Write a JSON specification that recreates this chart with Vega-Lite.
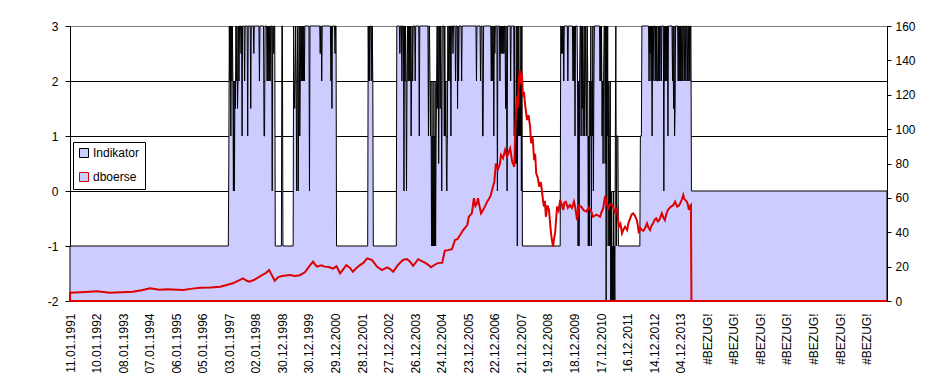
{
"$schema": "https://vega.github.io/schema/vega-lite/v6.json",
"width": 817, "height": 275,
"padding": {"left": 47, "top": 20, "right": 5, "bottom": 5},
"background": "white",
"config": {"view": {"stroke": "#808080", "strokeWidth": 1}, "font": "Liberation Sans",
 "axis": {"labelFont": "Liberation Sans", "labelFontSize": 12, "labelColor": "black", "title": null, "domainColor": "black", "tickColor": "black"},
 "axisX": {"labelOverlap": false, "labelFlush": false, "labelBound": false}},
"datasets": {
"ind": [
{"w":0,"v":-1},{"w":310,"v":-1},{"w":311,"v":0.5},{"w":312,"v":3},{"w":313,"v":2},{"w":314,"v":3},{"w":315,"v":1},{"w":316,"v":3},{"w":317,"v":2},{"w":318,"v":3},{"w":319,"v":2},{"w":320,"v":0},{"w":321,"v":2},{"w":322,"v":0},{"w":323,"v":2},{"w":324,"v":1.5},{"w":325,"v":3},{"w":326,"v":2},{"w":327,"v":3},{"w":328,"v":1.5},{"w":329,"v":2},{"w":330,"v":3},{"w":331,"v":2},{"w":332,"v":3},
{"w":334,"v":3},{"w":335,"v":2.5},{"w":336,"v":3},{"w":337,"v":1},{"w":338,"v":3},
{"w":341,"v":3},{"w":342,"v":2},{"w":343,"v":3},
{"w":347,"v":3},{"w":348,"v":1},{"w":349,"v":3},
{"w":353,"v":3},{"w":354,"v":1.5},{"w":355,"v":3},
{"w":359,"v":3},{"w":360,"v":2.5},{"w":361,"v":3},
{"w":370,"v":3},{"w":371,"v":2},{"w":372,"v":3},
{"w":379,"v":3},{"w":380,"v":1},{"w":381,"v":1},{"w":382,"v":3},
{"w":385,"v":3},{"w":386,"v":2},{"w":387,"v":3},{"w":388,"v":2},{"w":389,"v":3},{"w":390,"v":2},{"w":391,"v":3},{"w":392,"v":2},{"w":393,"v":3},
{"w":395,"v":3},{"w":396,"v":0},{"w":397,"v":3},
{"w":398,"v":3},{"w":399,"v":2.5},{"w":400,"v":3},{"w":401,"v":3},{"w":402,"v":-1},
{"w":414,"v":-1},{"w":415,"v":3},{"w":416,"v":3},{"w":417,"v":-1},
{"w":437,"v":-1},{"w":438,"v":3},{"w":439,"v":2},{"w":440,"v":1.5},{"w":441,"v":2},{"w":442,"v":3},{"w":443,"v":2},{"w":444,"v":0},{"w":445,"v":2},{"w":446,"v":3},{"w":447,"v":0},{"w":448,"v":2},{"w":449,"v":3},{"w":450,"v":1},{"w":451,"v":2},{"w":452,"v":3},{"w":453,"v":2},{"w":454,"v":3},{"w":455,"v":2},{"w":456,"v":3},{"w":457,"v":2},{"w":458,"v":3},{"w":459,"v":2},{"w":460,"v":3},
{"w":468,"v":3},{"w":469,"v":0},{"w":470,"v":3},
{"w":489,"v":3},{"w":490,"v":2.5},{"w":491,"v":3},
{"w":492,"v":3},{"w":493,"v":2},{"w":494,"v":3},
{"w":510,"v":3},{"w":511,"v":2},{"w":512,"v":3},{"w":513,"v":1.5},{"w":514,"v":3},
{"w":518,"v":3},{"w":519,"v":2.5},{"w":520,"v":3},{"w":521,"v":3},{"w":522,"v":-1},
{"w":583,"v":-1},{"w":584,"v":3},{"w":585,"v":2},{"w":586,"v":3},{"w":587,"v":2},{"w":588,"v":3},{"w":590,"v":3},{"w":591,"v":2},{"w":592,"v":3},{"w":593,"v":2},{"w":594,"v":-1},
{"w":639,"v":-1},{"w":640,"v":3},
{"w":645,"v":3},{"w":646,"v":2.5},{"w":647,"v":3},
{"w":649,"v":3},{"w":650,"v":2},{"w":651,"v":3},
{"w":653,"v":3},{"w":654,"v":0},{"w":655,"v":3},{"w":656,"v":2},{"w":657,"v":3},{"w":658,"v":2},{"w":659,"v":0},{"w":660,"v":2},{"w":661,"v":3},{"w":662,"v":2},{"w":663,"v":3},{"w":664,"v":2},{"w":665,"v":3},{"w":666,"v":2},{"w":667,"v":3},{"w":668,"v":1},{"w":669,"v":2},{"w":670,"v":3},{"w":671,"v":2},{"w":672,"v":3},
{"w":675,"v":3},{"w":676,"v":2},{"w":677,"v":3},
{"w":683,"v":3},{"w":684,"v":1},{"w":685,"v":3},
{"w":701,"v":3},{"w":702,"v":1},{"w":703,"v":3},{"w":704,"v":3},{"w":705,"v":2},{"w":706,"v":1},{"w":707,"v":2},{"w":708,"v":-1},{"w":709,"v":1},{"w":710,"v":-1},{"w":711,"v":2},{"w":712,"v":-1},{"w":713,"v":1},{"w":714,"v":-1},{"w":715,"v":2},{"w":716,"v":-1},{"w":717,"v":1},{"w":718,"v":2},{"w":719,"v":3},{"w":720,"v":1.5},{"w":721,"v":3},{"w":722,"v":0.5},{"w":723,"v":2},{"w":724,"v":3},{"w":725,"v":1.5},{"w":726,"v":3},{"w":727,"v":2},{"w":728,"v":0},{"w":729,"v":3},
{"w":732,"v":3},{"w":733,"v":1},{"w":734,"v":3},{"w":735,"v":1},{"w":736,"v":2},{"w":737,"v":0.5},{"w":738,"v":0},{"w":739,"v":1},{"w":740,"v":3},{"w":741,"v":2},{"w":742,"v":3},
{"w":743,"v":3},{"w":744,"v":2},{"w":745,"v":3},{"w":746,"v":1},{"w":747,"v":3},
{"w":749,"v":3},{"w":750,"v":2.5},{"w":751,"v":3},
{"w":754,"v":3},{"w":755,"v":2},{"w":756,"v":3},
{"w":758,"v":3},{"w":759,"v":1.5},{"w":760,"v":3},{"w":761,"v":2},{"w":762,"v":3},
{"w":766,"v":3},{"w":767,"v":2},{"w":768,"v":3},
{"w":795,"v":3},{"w":796,"v":2},{"w":797,"v":3},
{"w":803,"v":3},{"w":804,"v":2},{"w":805,"v":3},
{"w":807,"v":3},{"w":808,"v":1},{"w":809,"v":1},{"w":810,"v":3},
{"w":824,"v":3},{"w":825,"v":2},{"w":826,"v":3},{"w":827,"v":2},{"w":828,"v":3},
{"w":829,"v":3},{"w":830,"v":1},{"w":831,"v":3},{"w":832,"v":2.5},{"w":833,"v":3},
{"w":836,"v":3},{"w":837,"v":0},{"w":838,"v":3},
{"w":841,"v":3},{"w":842,"v":2},{"w":843,"v":3},{"w":844,"v":2.5},{"w":845,"v":3},{"w":846,"v":2.5},{"w":847,"v":3},{"w":848,"v":2.5},{"w":849,"v":3},{"w":850,"v":2.5},{"w":851,"v":3},
{"w":852,"v":3},{"w":853,"v":1.5},{"w":854,"v":3},{"w":855,"v":1.5},{"w":856,"v":0},{"w":857,"v":3},
{"w":862,"v":3},{"w":863,"v":2},{"w":864,"v":3},
{"w":869,"v":3},{"w":870,"v":1},{"w":871,"v":3},{"w":872,"v":0.5},{"w":873,"v":1},{"w":874,"v":0.5},{"w":875,"v":3},{"w":876,"v":-1},{"w":877,"v":3},{"w":878,"v":1},{"w":879,"v":3},{"w":880,"v":1},{"w":881,"v":2},{"w":882,"v":1},{"w":883,"v":3},{"w":884,"v":0},{"w":885,"v":3},{"w":886,"v":-1},
{"w":960,"v":-1},{"w":961,"v":3},{"w":962,"v":3},{"w":963,"v":2.5},{"w":964,"v":3},{"w":965,"v":2.5},{"w":966,"v":3},{"w":967,"v":2},{"w":968,"v":3},
{"w":974,"v":3},{"w":975,"v":2},{"w":976,"v":3},
{"w":984,"v":3},{"w":985,"v":2},{"w":986,"v":3},{"w":987,"v":2},{"w":988,"v":3},{"w":989,"v":1},{"w":990,"v":3},
{"w":993,"v":3},{"w":994,"v":2},{"w":995,"v":-1},{"w":996,"v":2},{"w":997,"v":-1},{"w":998,"v":2},{"w":999,"v":3},
{"w":1000,"v":3},{"w":1001,"v":1},{"w":1002,"v":3},{"w":1003,"v":1.5},{"w":1004,"v":3},{"w":1005,"v":1},{"w":1006,"v":2},{"w":1007,"v":3},{"w":1008,"v":1},{"w":1009,"v":2},{"w":1010,"v":3},{"w":1011,"v":2},{"w":1012,"v":1},{"w":1013,"v":3},{"w":1014,"v":2},{"w":1015,"v":-1},{"w":1016,"v":1},{"w":1017,"v":-1},{"w":1018,"v":2},{"w":1019,"v":1},{"w":1020,"v":3},{"w":1021,"v":-1},{"w":1022,"v":2},{"w":1023,"v":1},{"w":1024,"v":3},{"w":1025,"v":0},{"w":1026,"v":2},{"w":1027,"v":3},
{"w":1037,"v":3},{"w":1038,"v":2},{"w":1039,"v":3},{"w":1040,"v":2},{"w":1041,"v":3},{"w":1042,"v":1},{"w":1043,"v":2},{"w":1044,"v":0.5},{"w":1045,"v":2},{"w":1046,"v":3},
{"w":1047,"v":3},{"w":1048,"v":0.5},{"w":1049,"v":3},{"w":1050,"v":-2},{"w":1051,"v":3},{"w":1052,"v":1},{"w":1053,"v":3},{"w":1054,"v":-1},{"w":1055,"v":2},{"w":1056,"v":1},{"w":1057,"v":-1},{"w":1058,"v":2},{"w":1059,"v":-2},{"w":1060,"v":0},{"w":1061,"v":-2},{"w":1062,"v":-1},{"w":1063,"v":-2},{"w":1064,"v":0},{"w":1065,"v":-2},{"w":1066,"v":-1},{"w":1067,"v":-2},{"w":1068,"v":1},{"w":1069,"v":3},{"w":1070,"v":-1},{"w":1071,"v":1},{"w":1073,"v":1},{"w":1074,"v":-1},
{"w":1116,"v":-1},{"w":1117,"v":1},{"w":1119,"v":1},{"w":1120,"v":3},
{"w":1133,"v":3},{"w":1134,"v":2},{"w":1135,"v":3},{"w":1136,"v":2.5},{"w":1137,"v":3},{"w":1138,"v":2},{"w":1139,"v":3},{"w":1140,"v":1},{"w":1141,"v":3},{"w":1142,"v":2},{"w":1143,"v":3},
{"w":1145,"v":3},{"w":1146,"v":2},{"w":1147,"v":3},{"w":1148,"v":2},{"w":1149,"v":3},{"w":1150,"v":2},{"w":1151,"v":2},{"w":1152,"v":3},{"w":1153,"v":2},{"w":1154,"v":3},{"w":1155,"v":2},{"w":1156,"v":3},{"w":1157,"v":3},{"w":1158,"v":2},{"w":1159,"v":3},
{"w":1162,"v":3},{"w":1163,"v":0},{"w":1164,"v":3},{"w":1165,"v":2},{"w":1166,"v":3},{"w":1167,"v":2},{"w":1168,"v":3},{"w":1169,"v":2},{"w":1170,"v":3},{"w":1171,"v":1},{"w":1172,"v":3},
{"w":1179,"v":3},{"w":1180,"v":2},{"w":1181,"v":3},{"w":1182,"v":1.5},{"w":1183,"v":3},{"w":1184,"v":1},{"w":1185,"v":1.5},{"w":1186,"v":3},
{"w":1190,"v":3},{"w":1191,"v":2},{"w":1192,"v":3},{"w":1193,"v":2},{"w":1194,"v":3},{"w":1195,"v":2},{"w":1196,"v":3},{"w":1197,"v":2},{"w":1198,"v":3},
{"w":1199,"v":3},{"w":1200,"v":2},{"w":1201,"v":3},{"w":1202,"v":3},{"w":1203,"v":2},{"w":1204,"v":3},{"w":1205,"v":3},{"w":1206,"v":2},{"w":1207,"v":3},{"w":1208,"v":3},{"w":1209,"v":2},{"w":1210,"v":3},{"w":1211,"v":3},{"w":1212,"v":2},{"w":1213,"v":3},{"w":1214,"v":2},{"w":1215,"v":3},{"w":1216,"v":3},{"w":1217,"v":0},{"w":1600,"v":0}
],
"db": [
{"w":0,"v":4.8},{"w":30,"v":5.2},{"w":53,"v":5.6},{"w":78,"v":4.8},{"w":100,"v":5.1},{"w":123,"v":5.4},{"w":140,"v":6.2},{"w":157,"v":7.4},{"w":175,"v":6.6},{"w":190,"v":6.8},{"w":221,"v":6.4},{"w":240,"v":7.2},{"w":255,"v":7.7},{"w":275,"v":7.8},{"w":294,"v":8.3},{"w":307,"v":9.3},{"w":319,"v":10.3},{"w":330,"v":11.8},{"w":339,"v":13.2},{"w":345,"v":11.9},{"w":351,"v":11.2},{"w":360,"v":12.2},{"w":368,"v":13.6},{"w":376,"v":15.1},{"w":384,"v":16.4},{"w":390,"v":18},{"w":395,"v":15.2},{"w":401,"v":11.8},{"w":408,"v":13.9},{"w":415,"v":14.5},{"w":423,"v":14.9},{"w":431,"v":15.1},{"w":440,"v":14.6},{"w":450,"v":15},{"w":460,"v":16.7},{"w":468,"v":20},{"w":476,"v":22.9},{"w":480,"v":21.2},{"w":484,"v":20},{"w":492,"v":20.8},{"w":499,"v":20},{"w":507,"v":19.8},{"w":515,"v":18.8},{"w":522,"v":20.2},{"w":529,"v":16.1},{"w":535,"v":18.4},{"w":541,"v":20.9},{"w":548,"v":19.4},{"w":554,"v":17},{"w":561,"v":19.2},{"w":568,"v":20.9},{"w":575,"v":22.3},{"w":582,"v":24.8},{"w":591,"v":23.9},{"w":596,"v":22.1},{"w":601,"v":20},{"w":611,"v":18},{"w":621,"v":19.6},{"w":627,"v":18.6},{"w":633,"v":17},{"w":642,"v":20.9},{"w":652,"v":23.9},{"w":660,"v":24.4},{"w":666,"v":22.9},{"w":672,"v":20.4},{"w":682,"v":24.3},{"w":689,"v":23.2},{"w":695,"v":22.3},{"w":701,"v":21.2},{"w":707,"v":19.6},{"w":713,"v":20.8},{"w":719,"v":21.9},{"w":729,"v":22.3},{"w":734,"v":29.3},{"w":741,"v":29.6},{"w":748,"v":30.1},{"w":754,"v":35.5},{"w":759,"v":36.1},{"w":764,"v":38.4},{"w":770,"v":41.3},{"w":778,"v":44.2},{"w":781,"v":49},{"w":787,"v":51},{"w":791,"v":59.8},{"w":794,"v":55.3},{"w":797,"v":56.8},{"w":799,"v":59.8},{"w":802,"v":55.1},{"w":805,"v":51},{"w":809,"v":53},{"w":813,"v":55.2},{"w":817,"v":57.8},{"w":823,"v":60.7},{"w":828,"v":66},{"w":831,"v":69.4},{"w":834,"v":80},{"w":838,"v":76.5},{"w":842,"v":80},{"w":844,"v":85},{"w":848,"v":83.1},{"w":852,"v":87.9},{"w":856,"v":84},{"w":859,"v":86.5},{"w":862,"v":88.8},{"w":866,"v":81},{"w":870,"v":78.1},{"w":872,"v":99.5},{"w":875,"v":118.9},{"w":877,"v":112.5},{"w":879,"v":128.6},{"w":881,"v":134.4},{"w":883,"v":126.1},{"w":885,"v":132.5},{"w":887,"v":118.9},{"w":889,"v":121.7},{"w":891,"v":115},{"w":893,"v":110.2},{"w":895,"v":105.3},{"w":898,"v":108.1},{"w":901,"v":101.4},{"w":903,"v":91.8},{"w":906,"v":95.3},{"w":909,"v":82},{"w":911,"v":85.7},{"w":913,"v":74.3},{"w":916,"v":71.8},{"w":919,"v":66.5},{"w":922,"v":69.2},{"w":924,"v":64.6},{"w":926,"v":59.4},{"w":928,"v":54.9},{"w":930,"v":58.3},{"w":932,"v":49},{"w":935,"v":55.7},{"w":938,"v":53},{"w":940,"v":46.2},{"w":942,"v":39.4},{"w":944,"v":35.1},{"w":946,"v":31.6},{"w":948,"v":36.3},{"w":950,"v":39.4},{"w":952,"v":47.5},{"w":954,"v":54.9},{"w":957,"v":52.6},{"w":960,"v":58.8},{"w":963,"v":56.1},{"w":966,"v":53},{"w":968,"v":57.3},{"w":971,"v":57.8},{"w":975,"v":54.2},{"w":979,"v":55.9},{"w":983,"v":54.1},{"w":987,"v":57.8},{"w":990,"v":53.6},{"w":993,"v":47.1},{"w":997,"v":55.4},{"w":1001,"v":54.9},{"w":1006,"v":52.8},{"w":1011,"v":52},{"w":1016,"v":54.3},{"w":1020,"v":53},{"w":1024,"v":49},{"w":1031,"v":50.2},{"w":1038,"v":49},{"w":1041,"v":51.7},{"w":1044,"v":53.9},{"w":1048,"v":61.1},{"w":1051,"v":56.8},{"w":1054,"v":53.9},{"w":1058,"v":56.4},{"w":1062,"v":55.9},{"w":1067,"v":52},{"w":1071,"v":53.9},{"w":1075,"v":43.2},{"w":1078,"v":44.9},{"w":1081,"v":39.4},{"w":1084,"v":41.6},{"w":1087,"v":43.2},{"w":1091,"v":41.3},{"w":1094,"v":45.6},{"w":1097,"v":48.1},{"w":1100,"v":50.4},{"w":1103,"v":51},{"w":1106,"v":49.8},{"w":1110,"v":47.1},{"w":1112,"v":44.1},{"w":1114,"v":39.4},{"w":1117,"v":42.4},{"w":1120,"v":41.3},{"w":1123,"v":40.9},{"w":1126,"v":42.3},{"w":1130,"v":45.2},{"w":1133,"v":42.6},{"w":1136,"v":41.3},{"w":1139,"v":43.9},{"w":1142,"v":45.2},{"w":1145,"v":47.4},{"w":1148,"v":48.1},{"w":1151,"v":46.3},{"w":1154,"v":47.1},{"w":1159,"v":51},{"w":1162,"v":48.6},{"w":1165,"v":47.1},{"w":1168,"v":50.8},{"w":1171,"v":53},{"w":1177,"v":54.9},{"w":1181,"v":55.6},{"w":1185,"v":57.8},{"w":1189,"v":54.9},{"w":1192,"v":55.3},{"w":1195,"v":56.8},{"w":1198,"v":58.9},{"w":1201,"v":61.7},{"w":1203,"v":59.2},{"w":1205,"v":58.8},{"w":1208,"v":57.8},{"w":1210,"v":56.1},{"w":1212,"v":53},{"w":1214,"v":55.2},{"w":1216,"v":55.9},{"w":1217,"v":0},{"w":1600,"v":0}
]
},
"layer": [
{"data": {"name": "ind"},
 "mark": {"type": "area", "fill": "#CCCCFF", "fillOpacity": 1, "strokeWidth": 1, "strokeJoin": "bevel"},
 "encoding": {
  "x": {"field": "w", "type": "quantitative", "scale": {"domain": [0, 1600], "nice": false, "zero": false},
   "axis": {"values": [0,52,104,156,208,260,312,364,416,468,520,572,624,676,728,780,832,884,936,988,1040,1092,1144,1196,1248,1300,1352,1404,1456,1508,1560],
    "labelAngle": -90, "ticks": false, "domain": false, "grid": false, "labelPadding": 12, "labelFlush": false, "labelOverlap": false, "labelBound": false,
    "labelExpr": "['11.01.1991','10.01.1992','08.01.1993','07.01.1994','06.01.1995','05.01.1996','03.01.1997','02.01.1998','30.12.1998','30.12.1999','29.12.2000','28.12.2001','27.12.2002','26.12.2003','24.12.2004','23.12.2005','22.12.2006','21.12.2007','19.12.2008','18.12.2009','17.12.2010','16.12.2011','14.12.2012','04.12.2013','#BEZUG!','#BEZUG!','#BEZUG!','#BEZUG!','#BEZUG!','#BEZUG!','#BEZUG!'][round(datum.value/52)]"}},
  "y": {"field": "v", "type": "quantitative", "scale": {"domain": [-2, 3], "nice": false, "zero": false},
   "axis": {"values": [-2,-1,0,1,2,3], "tickSize": 5, "labelPadding": 7, "grid": true,
    "gridColor": {"condition": {"test": "datum.value === 3", "value": "#808080"}, "value": "black"},
    "labelExpr": "'' + datum.value"}},
  "y2": {"datum": -2},
  "stroke": {"datum": "Indikator", "type": "nominal",
   "scale": {"domain": ["Indikator", "dboerse"], "range": ["black", "#DD0000"]},
   "legend": {"title": null, "orient": "none", "legendX": 3, "legendY": 116, "symbolType": "square", "symbolSize": 81,
    "symbolStrokeWidth": 1, "labelFontSize": 12, "labelFont": "Liberation Sans", "labelColor": "black",
    "fillColor": "white", "strokeColor": "black", "padding": 5, "rowPadding": 10, "labelOffset": 3,
    "encode": {"symbols": {"update": {"fill": {"signal": "datum.value === 'dboerse' ? '#FFFFFF' : '#CCCCFF'"}, "fillOpacity": {"value": 1}, "strokeWidth": {"signal": "datum.value === 'dboerse' ? 2 : 1"}, "opacity": {"value": 1}}}}}}
 }},
{"data": {"name": "db"},
 "mark": {"type": "area", "fill": "transparent", "strokeWidth": 2, "strokeJoin": "miter"},
 "encoding": {
  "x": {"field": "w", "type": "quantitative",
   "axis": {"values": [0,52,104,156,208,260,312,364,416,468,520,572,624,676,728,780,832,884,936,988,1040,1092,1144,1196,1248,1300,1352,1404,1456,1508,1560],
    "labelAngle": -90, "ticks": false, "domain": false, "grid": false, "labelPadding": 12, "labelFlush": false, "labelOverlap": false, "labelBound": false,
    "labelExpr": "['11.01.1991','10.01.1992','08.01.1993','07.01.1994','06.01.1995','05.01.1996','03.01.1997','02.01.1998','30.12.1998','30.12.1999','29.12.2000','28.12.2001','27.12.2002','26.12.2003','24.12.2004','23.12.2005','22.12.2006','21.12.2007','19.12.2008','18.12.2009','17.12.2010','16.12.2011','14.12.2012','04.12.2013','#BEZUG!','#BEZUG!','#BEZUG!','#BEZUG!','#BEZUG!','#BEZUG!','#BEZUG!'][round(datum.value/52)]"}},
  "y": {"field": "v", "type": "quantitative", "scale": {"domain": [0, 160], "nice": false},
   "axis": {"orient": "right", "values": [0,20,40,60,80,100,120,140,160], "tickSize": 4, "labelPadding": 4, "grid": false}},
  "stroke": {"datum": "dboerse", "type": "nominal"}
 }}
],
"resolve": {"scale": {"y": "independent"}}
}
